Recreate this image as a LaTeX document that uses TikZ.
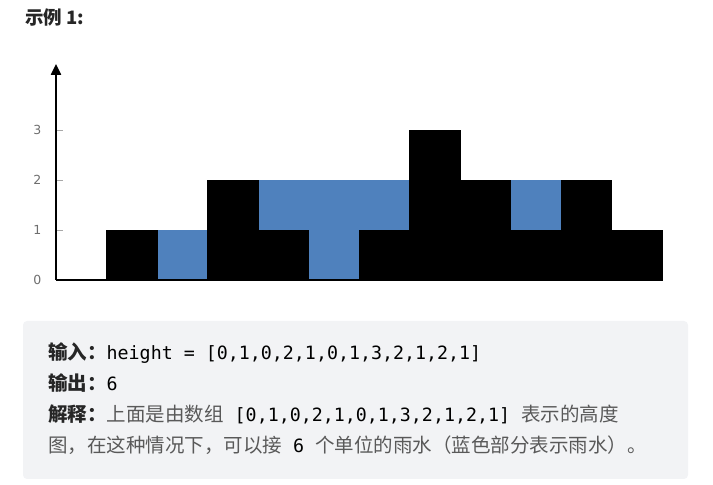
\documentclass[tikz,border=0pt]{standalone}
\usepackage{fontspec}
\setmainfont{Noto Sans CJK SC}
\newfontfamily\codefont{DejaVu Sans Mono}
\newfontfamily\axisfont{DejaVu Sans}
\definecolor{waterblue}{RGB}{79,129,189}
\definecolor{boxgray}{RGB}{242,243,245}
\definecolor{headgray}{RGB}{38,38,38}
\definecolor{textgray}{RGB}{89,89,89}
\definecolor{tickgray}{RGB}{110,110,110}
\newcommand\codetxt[1]{{\codefont\fontsize{18.3}{22}\selectfont\color{black}#1}}
\usetikzlibrary{arrows.meta}

\begin{document}
\begin{tikzpicture}[x=1pt, y=1pt,
        titletxt/.style={anchor=base west, inner sep=0pt, font=\fontsize{18.5}{22}\selectfont\bfseries, text=headgray},
        line/.style={anchor=base west, inner sep=0pt, font=\fontsize{19.5}{23}\selectfont, text=textgray},
        bar/.style={fill=black, draw=black, line width=0.8pt},
        water/.style={fill=waterblue},
        axisarr/.style={-{Triangle[length=11pt, width=10pt]}, line width=2.4pt},
        tick/.style={tickgray!60, line width=0.6pt},
        ticklbl/.style={font=\axisfont\fontsize{12.5}{14}\selectfont, text=tickgray}
    ]
    \useasboundingbox (0,0) rectangle (713,485);

    % Title
    \node[titletxt] (title) at (25,460) {示例 1:};

    % Chart
    \begin{scope}[shift={(56,205)}, x=50.5pt, y=50pt]
        \coordinate (o) at (0,0);
        \coordinate (ytop) at (0,4.32);
        \coordinate (xend) at (12,0);

        \foreach \i/\b/\t in {2/0/1, 4/1/2, 5/0/2, 6/1/2, 9/1/2}
            \fill[water] (\i,\b) rectangle (\i+1,\t);
        \foreach \i/\h in {1/1, 3/2, 4/1, 6/1, 7/3, 8/2, 9/1, 10/2, 11/1}
            \draw[bar] (\i,0) rectangle (\i+1,\h);

        \foreach \k in {1,2,3}
            \draw[tick] (0,\k) -- (0.14,\k);
        \foreach \k in {0,...,3}
            \node[ticklbl] (t\k) at (-0.37,\k) {\k};

        \draw[line width=2pt] (o) -- (xend);
        \draw[axisarr] (o) -- (ytop);
    \end{scope}

    % Example box
    \fill[boxgray, rounded corners=4pt] (23,6) rectangle (688,164);

    \node[line] (in) at (48,125) {{\bfseries\color{headgray}输入：}\codetxt{height = [0,1,0,2,1,0,1,3,2,1,2,1]}};
    \node[line] (out) at (48,94) {{\bfseries\color{headgray}输出：}\codetxt{6}};
    \node[line] (expl) at (48,63) {{\bfseries\color{headgray}解释：}上面是由数组\codetxt{\ [0,1,0,2,1,0,1,3,2,1,2,1]\ }表示的高度};
    \node[line] (expl2) at (48,32) {图，在这种情况下，可以接\codetxt{\ 6\ }个单位的雨水（蓝色部分表示雨水）。};
\end{tikzpicture}
\end{document}
